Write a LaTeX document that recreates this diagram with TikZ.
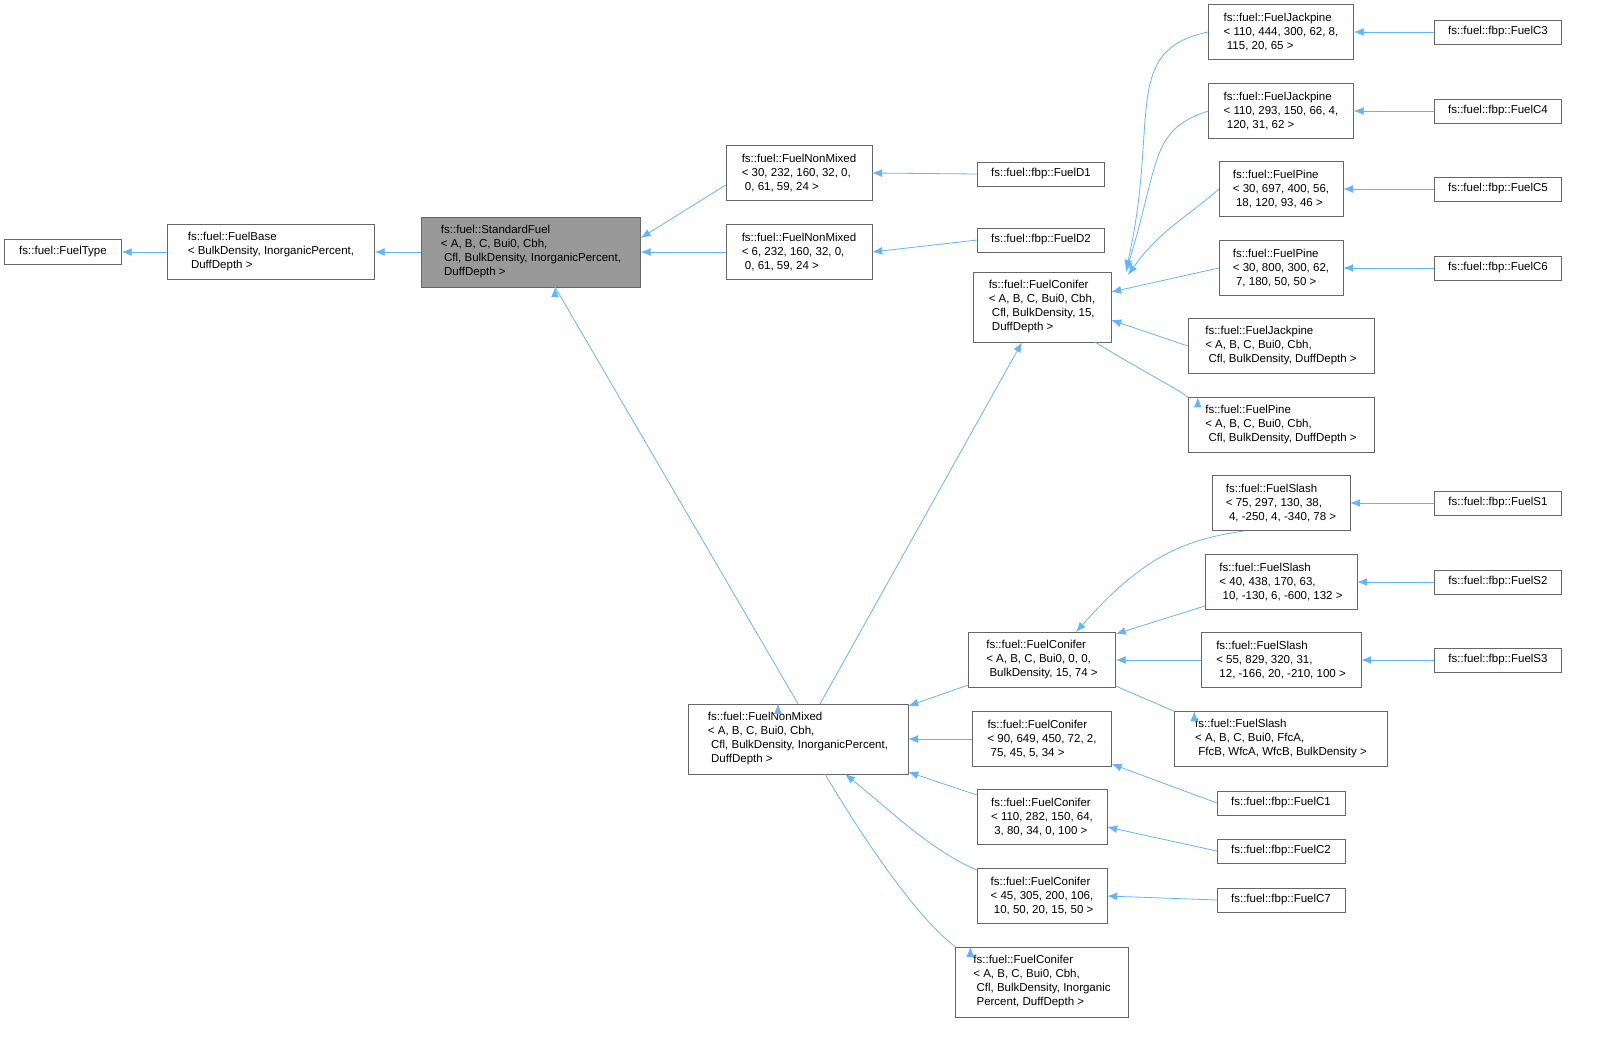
\documentclass[tikz,border=0pt]{standalone}
\usepackage{fontspec}
\setmainfont{Liberation Sans}
\usetikzlibrary{arrows.meta}
\begin{document}
\begin{tikzpicture}[x=1pt,y=-1pt,
  box/.style={draw=black!60,fill=white,font=\fontsize{11.5}{14}\selectfont,align=left,inner sep=0pt},
  e/.style={draw={rgb,255:red,99;green,180;blue,255},line width=0.8pt,{Latex[length=10pt,width=8pt]}-}]
\useasboundingbox (0,0) rectangle (1599,1042);
\newcommand\bx[6]{\node[box,minimum width=#4,minimum height=#5] (#1) at (#2,#3) {#6};}
\bx{ft}{63}{252}{117}{25}{fs::fuel::FuelType}
\bx{fb}{271}{252}{207}{55}{fs::fuel::FuelBase\\< BulkDensity, InorganicPercent,\\\ DuffDepth >}
\node[box,fill=black!40,minimum width=219,minimum height=70] (sf) at (531,252) {fs::fuel::StandardFuel\\< A, B, C, Bui0, Cbh,\\\ Cfl, BulkDensity, InorganicPercent,\\\ DuffDepth >};
\bx{nm1}{799}{173}{146}{55}{fs::fuel::FuelNonMixed\\< 30, 232, 160, 32, 0,\\\ 0, 61, 59, 24 >}
\bx{nm2}{799}{252}{146}{55}{fs::fuel::FuelNonMixed\\< 6, 232, 160, 32, 0,\\\ 0, 61, 59, 24 >}
\bx{d1}{1041}{174}{127}{24}{fs::fuel::fbp::FuelD1}
\bx{d2}{1041}{240}{127}{24}{fs::fuel::fbp::FuelD2}
\bx{cg}{1042}{307}{138}{70}{fs::fuel::FuelConifer\\< A, B, C, Bui0, Cbh,\\\ Cfl, BulkDensity, 15,\\\ DuffDepth >}
\bx{j1}{1281}{32}{145}{55}{fs::fuel::FuelJackpine\\< 110, 444, 300, 62, 8,\\\ 115, 20, 65 >}
\bx{j2}{1281}{111}{145}{55}{fs::fuel::FuelJackpine\\< 110, 293, 150, 66, 4,\\\ 120, 31, 62 >}
\bx{p1}{1281}{189}{124}{55}{fs::fuel::FuelPine\\< 30, 697, 400, 56,\\\ 18, 120, 93, 46 >}
\bx{p2}{1281}{268}{124}{55}{fs::fuel::FuelPine\\< 30, 800, 300, 62,\\\ 7, 180, 50, 50 >}
\bx{jg}{1281}{346}{186}{55}{fs::fuel::FuelJackpine\\< A, B, C, Bui0, Cbh,\\\ Cfl, BulkDensity, DuffDepth >}
\bx{pg}{1281}{425}{186}{55}{fs::fuel::FuelPine\\< A, B, C, Bui0, Cbh,\\\ Cfl, BulkDensity, DuffDepth >}
\bx{c3}{1498}{32}{127}{24}{fs::fuel::fbp::FuelC3}
\bx{c4}{1498}{111}{127}{24}{fs::fuel::fbp::FuelC4}
\bx{c5}{1498}{189}{127}{24}{fs::fuel::fbp::FuelC5}
\bx{c6}{1498}{268}{127}{24}{fs::fuel::fbp::FuelC6}
\bx{s1}{1281}{503}{138}{55}{fs::fuel::FuelSlash\\< 75, 297, 130, 38,\\\ 4, -250, 4, -340, 78 >}
\bx{s2}{1281}{582}{152}{55}{fs::fuel::FuelSlash\\< 40, 438, 170, 63,\\\ 10, -130, 6, -600, 132 >}
\bx{s3}{1281}{660}{160}{55}{fs::fuel::FuelSlash\\< 55, 829, 320, 31,\\\ 12, -166, 20, -210, 100 >}
\bx{sg}{1281}{739}{213}{55}{fs::fuel::FuelSlash\\< A, B, C, Bui0, FfcA,\\\ FfcB, WfcA, WfcB, BulkDensity >}
\bx{fs1}{1498}{503}{127}{24}{fs::fuel::fbp::FuelS1}
\bx{fs2}{1498}{582}{127}{24}{fs::fuel::fbp::FuelS2}
\bx{fs3}{1498}{660}{127}{24}{fs::fuel::fbp::FuelS3}
\bx{nmg}{798}{739}{220}{70}{fs::fuel::FuelNonMixed\\< A, B, C, Bui0, Cbh,\\\ Cfl, BulkDensity, InorganicPercent,\\\ DuffDepth >}
\bx{cs}{1042}{660}{147}{55}{fs::fuel::FuelConifer\\< A, B, C, Bui0, 0, 0,\\\ BulkDensity, 15, 74 >}
\bx{c90}{1042}{739}{139}{55}{fs::fuel::FuelConifer\\< 90, 649, 450, 72, 2,\\\ 75, 45, 5, 34 >}
\bx{c110}{1042}{817}{130}{55}{fs::fuel::FuelConifer\\< 110, 282, 150, 64,\\\ 3, 80, 34, 0, 100 >}
\bx{c45}{1042}{896}{130}{55}{fs::fuel::FuelConifer\\< 45, 305, 200, 106,\\\ 10, 50, 20, 15, 50 >}
\bx{cg2}{1042}{982}{173}{70}{fs::fuel::FuelConifer\\< A, B, C, Bui0, Cbh,\\\ Cfl, BulkDensity, Inorganic\\\ Percent, DuffDepth >}
\bx{fc1}{1281}{803}{128}{24}{fs::fuel::fbp::FuelC1}
\bx{fc2}{1281}{851}{128}{24}{fs::fuel::fbp::FuelC2}
\bx{fc7}{1281}{900}{128}{24}{fs::fuel::fbp::FuelC7}
% edges
\draw[e] (ft.east) -- (fb.west);
\draw[e] (fb.east) -- (sf.west);
\draw[e] (sf.east |- 0,238) -- (nm1.west |- 0,185);
\draw[e] (sf.east) -- (nm2.west);
\draw[e] (nm1.east) -- (d1.west);
\draw[e] (nm2.east) -- (d2.west);
\draw[e] (sf.south |- 0,287) ++(24,0) -- (nmg.north) ++(-20,0);
\draw[e] (1126,270) .. controls (1160,120) and (1120,50) .. (j1.west);
\draw[e] (1126,272) .. controls (1160,160) and (1150,130) .. (j2.west);
\draw[e] (1128,275) .. controls (1160,230) and (1190,215) .. (p1.west);
\draw[e] (cg.east |- 0,292) -- (p2.west);
\draw[e] (cg.east |- 0,320) -- (jg.west);
\draw[e] (1095,342) .. controls (1140,370) and (1180,390) .. (pg.north west) ++(10,0);
\draw[e] (j1.east) -- (c3.west);
\draw[e] (j2.east) -- (c4.west);
\draw[e] (p1.east) -- (c5.west);
\draw[e] (p2.east) -- (c6.west);
\draw[e] (cg.south) ++(-20,0) -- (820,704);
\draw[e] (sf.south) ++(24,0) coordinate (tmp);
\draw[e] (1076,632) .. controls (1140,560) and (1180,540) .. (1244,531);
\draw[e] (cs.east |- 0,634) -- (s2.west |- 0,606);
\draw[e] (cs.east) -- (s3.west);
\draw[e] (cs.east |- 0,686) -- (sg.north west) ++(20,0);
\draw[e] (s1.east) -- (fs1.west);
\draw[e] (s2.east) -- (fs2.west);
\draw[e] (s3.east) -- (fs3.west);
\draw[e] (nmg.east |- 0,706) -- (cs.west |- 0,685);
\draw[e] (nmg.east) -- (c90.west);
\draw[e] (nmg.east |- 0,772) -- (c110.west |- 0,795);
\draw[e] (845,774) .. controls (890,810) and (930,850) .. (c45.west |- 0,870);
\draw[e] (825,774) .. controls (870,850) and (920,920) .. (cg2.north west) ++(15,0);
\draw[e] (c90.east |- 0,764) -- (fc1.west);
\draw[e] (c110.east |- 0,827) -- (fc2.west);
\draw[e] (c45.east) -- (fc7.west);
\end{tikzpicture}
\end{document}
